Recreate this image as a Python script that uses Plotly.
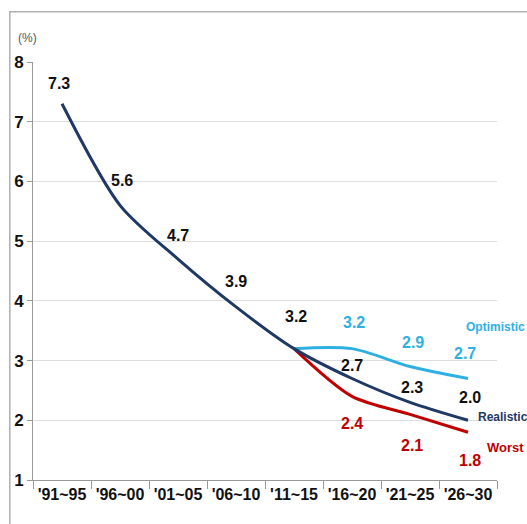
import plotly.graph_objects as go

categories = ["'91~95", "'96~00", "'01~05", "'06~10", "'11~15", "'16~20", "'21~25", "'26~30"]
realistic = [7.3, 5.6, 4.7, 3.9, 3.2, 2.7, 2.3, 2.0]
optimistic = [None, None, None, None, 3.2, 3.2, 2.9, 2.7]
worst = [None, None, None, None, 3.2, 2.4, 2.1, 1.8]

NAVY = "#1f3864"
SKY = "#2fb0e3"
RED = "#c00000"
FONT = "Liberation Sans"

fig = go.Figure()
fig.add_trace(go.Scatter(x=categories, y=worst, mode="lines", line=dict(color=RED, width=3, shape="spline", smoothing=0.8), connectgaps=False, hoverinfo="skip"))
fig.add_trace(go.Scatter(x=categories, y=optimistic, mode="lines", line=dict(color=SKY, width=3, shape="spline", smoothing=0.8), connectgaps=False, hoverinfo="skip"))
fig.add_trace(go.Scatter(x=categories, y=realistic, mode="lines", line=dict(color=NAVY, width=3, shape="spline", smoothing=0.8), hoverinfo="skip"))

# label offsets (pixels)
real_shift = [(-3, 20), (2, 25), (0, 24), (0, 25), (2, 32), (0, 13), (2, 15), (2, 23)]
opt_shift = [None, None, None, None, None, (2, 26), (3, 24), (-3, 25)]
worst_shift = [None, None, None, None, None, (0, -27), (2, -31), (2, -28)]

LBL = 16
ann = []
for i, v in enumerate(realistic):
    dx, dy = real_shift[i]
    ann.append(dict(x=categories[i], y=v, text=f"{v:.1f}", showarrow=False, xshift=dx, yshift=dy,
                    font=dict(color="#111111", size=LBL, family=FONT, weight="bold")))
for series, shifts, col in ((optimistic, opt_shift, SKY), (worst, worst_shift, RED)):
    for i, v in enumerate(series):
        if v is None or shifts[i] is None:
            continue
        dx, dy = shifts[i]
        ann.append(dict(x=categories[i], y=v, text=f"{v:.1f}", showarrow=False, xshift=dx, yshift=dy,
                        font=dict(color=col, size=LBL, family=FONT, weight="bold")))

# series name labels
ann.append(dict(x=categories[7], y=optimistic[7], text="Optimistic", showarrow=False, xanchor="center", xshift=27, yshift=51,
                font=dict(color=SKY, size=12, family=FONT, weight="bold")))
ann.append(dict(x=categories[7], y=realistic[7], text="Realistic", showarrow=False, xanchor="left", xshift=8, yshift=3,
                font=dict(color=NAVY, size=12, family=FONT, weight="bold")))
ann.append(dict(x=categories[7], y=worst[7], text="Worst", showarrow=False, xanchor="left", xshift=17, yshift=-15,
                font=dict(color=RED, size=13, family=FONT, weight="bold")))
ann.append(dict(xref="paper", yref="paper", x=-0.012, y=1.08, text="(%)", showarrow=False, xanchor="center",
                font=dict(color="#555555", size=12, family=FONT)))

fig.update_layout(
    width=527, height=524,
    margin=dict(l=33, r=30, t=62, b=44),
    paper_bgcolor="white", plot_bgcolor="white",
    showlegend=False,
    annotations=ann,
    shapes=[dict(type="rect", xref="paper", yref="paper", x0=-0.05, x1=1.3, y0=-0.3, y1=1.12,
                 line=dict(color="#b0b0b0", width=1.5), layer="below")],
    xaxis=dict(type="category", range=[-0.5, len(categories) - 0.5], tickson="boundaries", ticks="outside", ticklen=8, tickcolor="#999999",
               showline=True, linecolor="#999999", linewidth=1, showgrid=False, tickangle=0, automargin=False,
               tickfont=dict(size=16, family=FONT, color="#111111", weight="bold")),
    yaxis=dict(range=[1, 8], dtick=1, ticks="outside", ticklen=5, tickcolor="#999999",
               showline=True, linecolor="#999999", linewidth=1, automargin=False,
               showgrid=True, gridcolor="#dedede", gridwidth=1, zeroline=False,
               tickfont=dict(size=17, family=FONT, color="#111111", weight="bold")),
)

fig.write_html("out.html")
